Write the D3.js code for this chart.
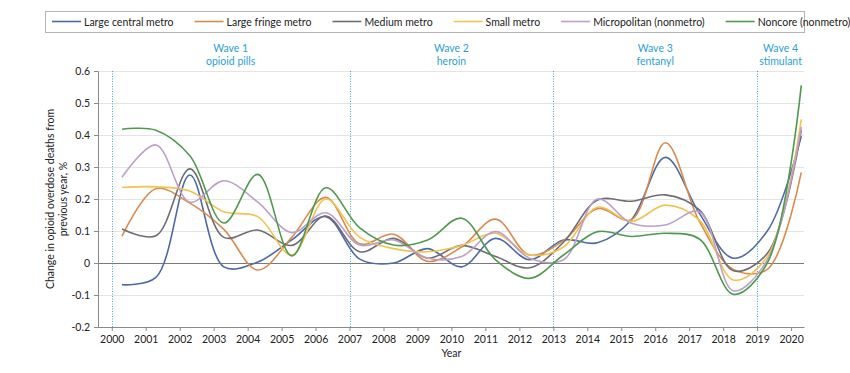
<!DOCTYPE html>
<html>
<head>
<meta charset="utf-8">
<script src="https://cdn.jsdelivr.net/npm/d3@7"></script>
<style>
  html, body { margin: 0; padding: 0; background: #fff; }
  svg { display: block; font-family: Lato, "Open Sans", sans-serif; }
</style>
</head>
<body>
<svg id="chart" width="850" height="373"></svg>
<script>
// ---------- data ----------
const years = d3.range(2000, 2021);
const seriesNames = ["Large central metro", "Large fringe metro", "Medium metro",
  "Small metro", "Micropolitan (nonmetro)", "Noncore (nonmetro)"];
const seriesColors = ["#4d6aa6", "#dc8a4c", "#6e6c74", "#f1c34f", "#bca0c9", "#4f9a4f"];

const largeCentral = [-0.068, -0.045, 0.275, -0.012, 0.003, 0.072, 0.145, 0.012, 0.0, 0.045, -0.012,
  0.077, 0.01, 0.072, 0.063, 0.135, 0.33, 0.155, 0.015, 0.1, 0.396];
const largeFringe = [0.084, 0.232, 0.187, 0.105, -0.022, 0.08, 0.205, 0.06, 0.09, 0.005, 0.05,
  0.137, 0.025, 0.07, 0.17, 0.135, 0.376, 0.13, -0.02, -0.02, 0.283];
const mediumMetro = [0.106, 0.085, 0.294, 0.08, 0.103, 0.055, 0.147, 0.035, 0.077, 0.015, 0.055,
  0.02, -0.015, 0.065, 0.197, 0.193, 0.213, 0.166, -0.024, 0.03, 0.415];
const smallMetro = [0.236, 0.238, 0.225, 0.16, 0.145, 0.025, 0.2, 0.08, 0.045, 0.035, 0.055,
  0.093, 0.025, 0.05, 0.174, 0.13, 0.181, 0.134, -0.053, 0.02, 0.449];
const micropolitan = [0.268, 0.369, 0.19, 0.257, 0.19, 0.095, 0.157, 0.056, 0.072, 0.015, 0.02,
  0.098, 0.015, 0.01, 0.2, 0.124, 0.119, 0.16, -0.087, 0.01, 0.425];
const noncore = [0.418, 0.415, 0.335, 0.125, 0.277, 0.022, 0.235, 0.11, 0.056, 0.072, 0.14,
  0.01, -0.048, 0.025, 0.098, 0.083, 0.093, 0.075, -0.098, 0.0, 0.555];

const yTicks = [-0.2, -0.1, 0, 0.1, 0.2, 0.3, 0.4, 0.5, 0.6];
const waveYears = [2000, 2007, 2013, 2019];
const waveTitles = ["Wave 1", "Wave 2", "Wave 3", "Wave 4"];
const waveDrugs = ["opioid pills", "heroin", "fentanyl", "stimulant"];

const seriesValues = [largeCentral, largeFringe, mediumMetro, smallMetro, micropolitan, noncore];

// ---------- layout ----------
const svg = d3.select("#chart");
const xDomain = [1999.58, 2020.38];
const x = d3.scaleLinear().domain(xDomain).range([97.5, 804]);
const y = d3.scaleLinear().domain([-0.2, 0.6]).range([327, 71]);
const pointOffset = 0.3; // points drawn slightly after each year tick
const crisp = v => Math.round(v) + 0.5;

// gridlines
svg.append("g").selectAll("line").data(yTicks.filter(d => d !== 0 && d !== -0.2)).join("line")
  .attr("x1", x(xDomain[0])).attr("x2", x(xDomain[1]))
  .attr("y1", d => crisp(y(d))).attr("y2", d => crisp(y(d)))
  .attr("stroke", "#e4e4e4").attr("stroke-width", 1);

// wave dotted lines
svg.append("g").selectAll("line").data(waveYears).join("line")
  .attr("x1", d => crisp(x(d))).attr("x2", d => crisp(x(d)))
  .attr("y1", y(0.6)).attr("y2", y(-0.2))
  .attr("stroke", "#45a6d6").attr("stroke-width", 1)
  .attr("stroke-dasharray", "1,1.5");

// zero line
svg.append("line")
  .attr("x1", x(xDomain[0])).attr("x2", x(xDomain[1]))
  .attr("y1", crisp(y(0))).attr("y2", crisp(y(0)))
  .attr("stroke", "#7a7a7a").attr("stroke-width", 1);

// axes
const xAxis = svg.append("g").attr("transform", `translate(0,${crisp(y(-0.2)) - 0.5})`)
  .call(d3.axisBottom(x).tickValues(years).tickFormat(d3.format("d")).tickSize(4).tickSizeOuter(0));
const yAxis = svg.append("g").attr("transform", `translate(${crisp(x(xDomain[0])) - 0.5},0)`)
  .call(d3.axisLeft(y).tickValues(yTicks).tickFormat(d => d === 0 ? "0" : d.toFixed(1)).tickSize(4).tickSizeOuter(0));
[xAxis, yAxis].forEach(g => {
  g.select(".domain").attr("stroke", "#8a8a8a");
  g.selectAll(".tick line").attr("stroke", "#8a8a8a");
  g.selectAll(".tick text").attr("fill", "#222").style("font-size", "10.5px")
    .style("font-family", "Lato, 'Open Sans', sans-serif");
});
xAxis.selectAll(".tick text").attr("dy", "0.9em");
yAxis.selectAll(".tick text").attr("dx", "-1");

// axis titles
svg.append("text").attr("x", x(2010)).attr("y", 357).attr("text-anchor", "middle")
  .attr("fill", "#222").style("font-size", "10.5px").text("Year");
const yt = svg.append("text").attr("transform", "translate(54,199) rotate(-90)")
  .attr("text-anchor", "middle").attr("fill", "#222").style("font-size", "10.5px");
yt.append("tspan").attr("x", 0).attr("dy", "0").text("Change in opioid overdose deaths from");
yt.append("tspan").attr("x", 0).attr("dy", "1.25em").text("previous year, %");

// wave labels
const waveCenters = waveYears.map((d, i) => (d + (i < waveYears.length - 1 ? waveYears[i + 1] : xDomain[1])) / 2);
const wl = svg.append("g").selectAll("text").data(waveYears).join("text")
  .attr("x", (d, i) => x(waveCenters[i])).attr("text-anchor", "middle")
  .attr("fill", "#2b9fd6").style("font-size", "10.5px");
wl.append("tspan").attr("x", (d, i) => x(waveCenters[i])).attr("y", 52).text((d, i) => waveTitles[i]);
wl.append("tspan").attr("x", (d, i) => x(waveCenters[i])).attr("y", 65).text((d, i) => waveDrugs[i]);

// lines
const line = d3.line()
  .x((d, i) => x(years[i] + pointOffset))
  .y(d => y(d))
  .curve(d3.curveCatmullRom.alpha(0.5));
svg.append("g").selectAll("path").data(seriesValues).join("path")
  .attr("d", d => line(d))
  .attr("fill", "none")
  .attr("stroke", (d, i) => seriesColors[i])
  .attr("stroke-width", 1.6);

// legend
svg.append("rect").attr("x", 45.5).attr("y", 11.5).attr("width", 759).attr("height", 21)
  .attr("fill", "#fff").attr("stroke", "#b5b5b5").attr("stroke-width", 1);
const lg = svg.append("g").style("font-size", "10.5px");
let cx = 52;
seriesNames.forEach((name, i) => {
  lg.append("line").attr("x1", cx).attr("x2", cx + 29).attr("y1", 21.5).attr("y2", 21.5)
    .attr("stroke", seriesColors[i]).attr("stroke-width", 1.6);
  const t = lg.append("text").attr("x", cx + 32).attr("y", 25.5).attr("fill", "#222").text(name);
  cx += 32 + t.node().getComputedTextLength() + 21;
});
</script>
</body>
</html>
